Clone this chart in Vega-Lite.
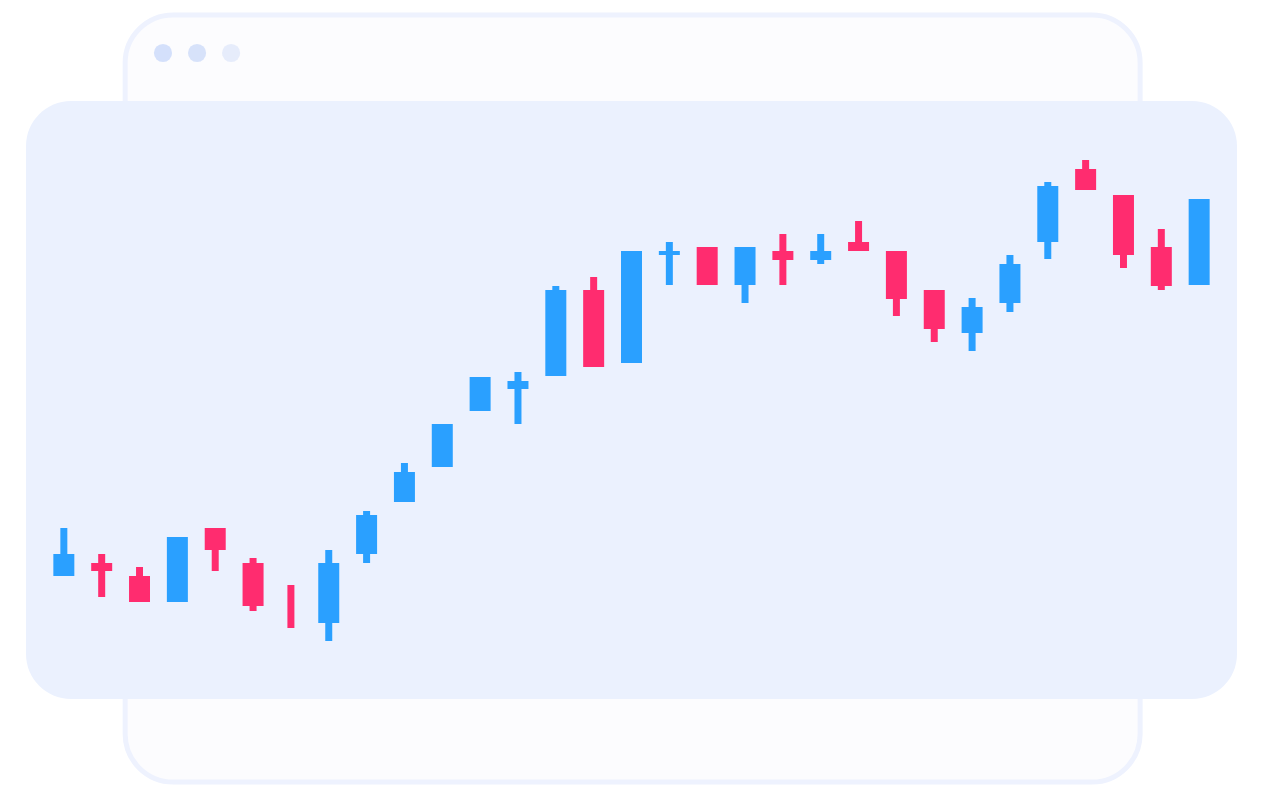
{
  "$schema": "https://vega.github.io/schema/vega-lite/v6.json",
  "width": 1211,
  "height": 598,
  "autosize": {"type": "none"},
  "padding": {"left": 26, "top": 101, "right": 26, "bottom": 101},
  "background": "#FFFFFF",
  "view": {"stroke": null, "fill": null},
  "config": {"axis": {"disable": true}},
  "data": {"values": [{"panel": "window"}]},
  "datasets": {
    "candles": [
      {"i": 0, "open": 123, "close": 145, "high": 171, "low": 123, "dir": "up"},
      {"i": 1, "open": 136, "close": 128, "high": 145, "low": 102, "dir": "down"},
      {"i": 2, "open": 123, "close": 97, "high": 132, "low": 97, "dir": "down"},
      {"i": 3, "open": 97, "close": 162, "high": 162, "low": 97, "dir": "up"},
      {"i": 4, "open": 171, "close": 149, "high": 171, "low": 128, "dir": "down"},
      {"i": 5, "open": 136, "close": 93, "high": 141, "low": 88, "dir": "down"},
      {"i": 6, "open": 93, "close": 93, "high": 114, "low": 71, "dir": "down"},
      {"i": 7, "open": 76, "close": 136, "high": 149, "low": 58, "dir": "up"},
      {"i": 8, "open": 145, "close": 184, "high": 188, "low": 136, "dir": "up"},
      {"i": 9, "open": 197, "close": 227, "high": 236, "low": 197, "dir": "up"},
      {"i": 10, "open": 232, "close": 275, "high": 275, "low": 232, "dir": "up"},
      {"i": 11, "open": 288, "close": 322, "high": 322, "low": 288, "dir": "up"},
      {"i": 12, "open": 310, "close": 318, "high": 327, "low": 275, "dir": "up"},
      {"i": 13, "open": 323, "close": 409, "high": 413, "low": 323, "dir": "up"},
      {"i": 14, "open": 409, "close": 332, "high": 422, "low": 332, "dir": "down"},
      {"i": 15, "open": 336, "close": 448, "high": 448, "low": 336, "dir": "up"},
      {"i": 16, "open": 444, "close": 448, "high": 457, "low": 414, "dir": "up"},
      {"i": 17, "open": 452, "close": 414, "high": 452, "low": 414, "dir": "down"},
      {"i": 18, "open": 414, "close": 452, "high": 452, "low": 396, "dir": "up"},
      {"i": 19, "open": 448, "close": 439, "high": 465, "low": 414, "dir": "down"},
      {"i": 20, "open": 439, "close": 448, "high": 465, "low": 435, "dir": "up"},
      {"i": 21, "open": 457, "close": 448, "high": 478, "low": 448, "dir": "down"},
      {"i": 22, "open": 448, "close": 400, "high": 448, "low": 383, "dir": "down"},
      {"i": 23, "open": 409, "close": 370, "high": 409, "low": 357, "dir": "down"},
      {"i": 24, "open": 366, "close": 392, "high": 401, "low": 348, "dir": "up"},
      {"i": 25, "open": 396, "close": 435, "high": 444, "low": 387, "dir": "up"},
      {"i": 26, "open": 457, "close": 513, "high": 517, "low": 440, "dir": "up"},
      {"i": 27, "open": 530, "close": 509, "high": 539, "low": 509, "dir": "down"},
      {"i": 28, "open": 504, "close": 444, "high": 504, "low": 431, "dir": "down"},
      {"i": 29, "open": 452, "close": 413, "high": 470, "low": 409, "dir": "down"},
      {"i": 30, "open": 414, "close": 500, "high": 500, "low": 414, "dir": "up"}
    ]
  },
  "layer": [
    {
      "mark": {"type": "rect", "fill": "#FCFCFE", "stroke": "#EEF2FE", "strokeWidth": 5, "cornerRadius": 48, "clip": false},
      "encoding": {
        "x": {"datum": 1.62, "type": "quantitative", "scale": {"domain": [-1, 31], "nice": false, "zero": false, "padding": 0}},
        "x2": {"datum": 28.44},
        "y": {"datum": 684, "type": "quantitative", "scale": {"domain": [0, 598], "nice": false, "zero": false, "padding": 0}},
        "y2": {"datum": -83}
      }
    },
    {
      "mark": {"type": "point", "filled": true, "size": 330, "color": "#CFDDFB", "opacity": 0.9},
      "encoding": {"x": {"datum": 2.62, "type": "quantitative"}, "y": {"datum": 646, "type": "quantitative"}}
    },
    {
      "mark": {"type": "point", "filled": true, "size": 330, "color": "#D3DFFA", "opacity": 0.9},
      "encoding": {"x": {"datum": 3.52, "type": "quantitative"}, "y": {"datum": 646, "type": "quantitative"}}
    },
    {
      "mark": {"type": "point", "filled": true, "size": 330, "color": "#E3EAFB", "opacity": 0.9},
      "encoding": {"x": {"datum": 4.42, "type": "quantitative"}, "y": {"datum": 646, "type": "quantitative"}}
    },
    {
      "mark": {"type": "rect", "fill": "#EBF1FE", "cornerRadius": 45},
      "encoding": {
        "x": {"datum": -1, "type": "quantitative"},
        "x2": {"datum": 31},
        "y": {"datum": 0, "type": "quantitative"},
        "y2": {"datum": 598}
      }
    },
    {
      "data": {"name": "candles"},
      "mark": {"type": "rule", "strokeWidth": 7},
      "encoding": {
        "x": {"field": "i", "type": "quantitative"},
        "y": {"field": "low", "type": "quantitative"},
        "y2": {"field": "high"},
        "color": {"field": "dir", "type": "nominal", "scale": {"domain": ["up", "down"], "range": ["#2AA0FF", "#FF2C6F"]}, "legend": null}
      }
    },
    {
      "data": {"name": "candles"},
      "mark": {"type": "bar", "size": 21},
      "encoding": {
        "x": {"field": "i", "type": "quantitative"},
        "y": {"field": "open", "type": "quantitative"},
        "y2": {"field": "close"},
        "color": {"field": "dir", "type": "nominal", "legend": null}
      }
    }
  ]
}
